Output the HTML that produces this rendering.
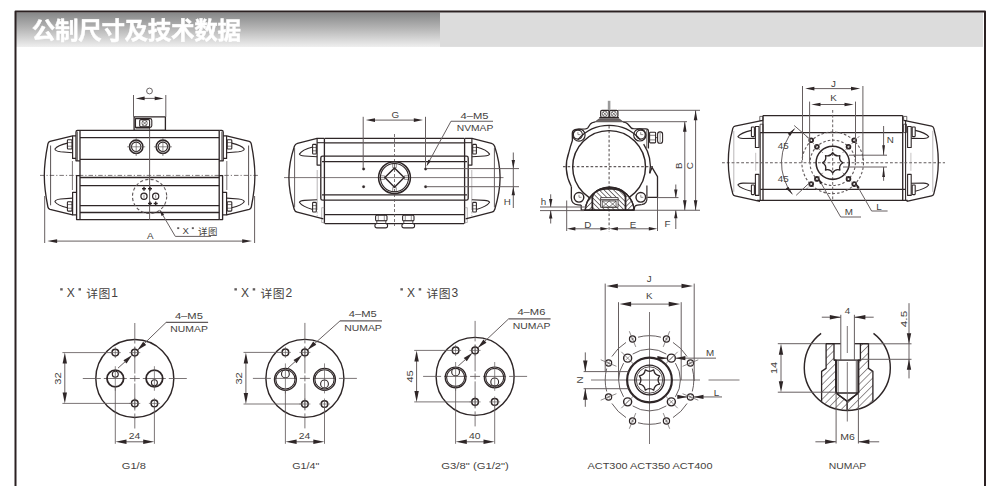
<!DOCTYPE html>
<html><head><meta charset="utf-8"><title>Metric dimensions</title>
<style>
html,body{margin:0;padding:0;background:#fff;}
body{width:1000px;height:486px;overflow:hidden;font-family:"Liberation Sans",sans-serif;}
svg{display:block;font-family:"Liberation Sans",sans-serif;}
</style></head><body>
<svg width="1000" height="486" viewBox="0 0 1000 486" stroke-linecap="butt" stroke-linejoin="round">
<defs><linearGradient id="hg" x1="0" y1="0" x2="0" y2="1"><stop offset="0" stop-color="#868788"/><stop offset="0.45" stop-color="#b4b4b4"/><stop offset="1" stop-color="#efefef"/></linearGradient><filter id="bl" x="-5%" y="-20%" width="110%" height="140%"><feGaussianBlur stdDeviation="0.35"/></filter></defs>
<rect x="16" y="12.5" width="424" height="34.5" fill="url(#hg)"/>
<rect x="440" y="12.5" width="543" height="34.4" fill="#dcdcdc"/>
<path d="M15.5,486 V11.5 H985 V486" fill="none" stroke="#2b2122" stroke-width="2"/>
<g filter="url(#bl)">
<text x="31.8" y="38.6" font-size="23.6" font-weight="bold" fill="#ffffff" stroke="#fff" stroke-width="0.42" textLength="209.2" lengthAdjust="spacing" style="font-family:'Liberation Sans','Noto Sans CJK SC',sans-serif">公制尺寸及技术数据</text>
</g>
<line x1="80" y1="130.4" x2="219.2" y2="130.4" stroke="#2e2627" stroke-width="1.32"/>
<line x1="80" y1="137.7" x2="219.2" y2="137.7" stroke="#2e2627" stroke-width="1.32"/>
<line x1="80" y1="159.4" x2="219.2" y2="159.4" stroke="#2e2627" stroke-width="1.32"/>
<line x1="80" y1="177.5" x2="219.2" y2="177.5" stroke="#2e2627" stroke-width="1.32"/>
<line x1="80" y1="185.6" x2="219.2" y2="185.6" stroke="#2e2627" stroke-width="1.32"/>
<line x1="80" y1="205.7" x2="219.2" y2="205.7" stroke="#2e2627" stroke-width="1.32"/>
<line x1="80" y1="212.5" x2="219.2" y2="212.5" stroke="#2e2627" stroke-width="1.32"/>
<line x1="80" y1="219.6" x2="219.2" y2="219.6" stroke="#2e2627" stroke-width="1.32"/>
<line x1="40" y1="175.4" x2="259" y2="175.4" stroke="#625b5c" stroke-width="0.84" stroke-dasharray="4.5 2 1.2 2"/>
<line x1="149.6" y1="124" x2="149.6" y2="220" stroke="#625b5c" stroke-width="0.98"/>
<line x1="80" y1="130.4" x2="80" y2="219.6" stroke="#2e2627" stroke-width="1.32"/>
<path d="M80,130.4 H77.5 Q76,130.4 76,132 V160.8 H80" stroke="#2e2627" stroke-width="1.32" fill="none"/>
<line x1="77.4" y1="131.5" x2="77.4" y2="160.8" stroke="#2e2627" stroke-width="0.7"/>
<path d="M80,175.6 H76.6 V219.6 H80" stroke="#2e2627" stroke-width="1.32" fill="none"/>
<path d="M76,135.9 H72.6 V158.4 H76" stroke="#2e2627" stroke-width="1.2" fill="none"/>
<path d="M76.6,192.3 H72.6 V214.9 H76.6" stroke="#2e2627" stroke-width="1.2" fill="none"/>
<line x1="72.4" y1="161" x2="72.4" y2="190" stroke="#625b5c" stroke-width="0.84"/>
<path d="M72.6,135.9 L50,141.4 Q48.3,141.9 47.9,143.8 C45.5,156 44.3,166 44.3,175.4 C44.3,185 45.5,195 47.9,207 Q48.3,208.9 50,209.4 L72.6,214.9" stroke="#2e2627" stroke-width="1.32" fill="none"/>
<line x1="50.6" y1="145.5" x2="50.6" y2="205.3" stroke="#2e2627" stroke-width="0.8"/>
<rect x="67.4" y="139.7" width="4.6" height="9.3" stroke="#2e2627" stroke-width="1.08" fill="none" rx="0.8"/>
<line x1="67.4" y1="142.6" x2="72" y2="142.6" stroke="#2e2627" stroke-width="0.6"/>
<line x1="67.4" y1="146.2" x2="72" y2="146.2" stroke="#2e2627" stroke-width="0.6"/>
<path d="M67.4,143.1 Q57.5,145.3 54.9,149 Q55.3,151.2 60.5,151.8 L72.6,152.7" stroke="#2e2627" stroke-width="1.08" fill="none"/>
<rect x="67.4" y="201.8" width="4.6" height="9.3" stroke="#2e2627" stroke-width="1.08" fill="none" rx="0.8"/>
<line x1="67.4" y1="208.2" x2="72" y2="208.2" stroke="#2e2627" stroke-width="0.6"/>
<line x1="67.4" y1="204.6" x2="72" y2="204.6" stroke="#2e2627" stroke-width="0.6"/>
<path d="M67.4,207.7 Q57.5,205.5 54.9,201.8 Q55.3,199.6 60.5,199 L72.6,198.1" stroke="#2e2627" stroke-width="1.08" fill="none"/>
<g transform="translate(299.2,0) scale(-1,1)">
<line x1="80" y1="130.4" x2="80" y2="219.6" stroke="#2e2627" stroke-width="1.32"/>
<path d="M80,130.4 H77.5 Q76,130.4 76,132 V160.8 H80" stroke="#2e2627" stroke-width="1.32" fill="none"/>
<line x1="77.4" y1="131.5" x2="77.4" y2="160.8" stroke="#2e2627" stroke-width="0.7"/>
<path d="M80,175.6 H76.6 V219.6 H80" stroke="#2e2627" stroke-width="1.32" fill="none"/>
<path d="M76,135.9 H72.6 V158.4 H76" stroke="#2e2627" stroke-width="1.2" fill="none"/>
<path d="M76.6,192.3 H72.6 V214.9 H76.6" stroke="#2e2627" stroke-width="1.2" fill="none"/>
<line x1="72.4" y1="161" x2="72.4" y2="190" stroke="#625b5c" stroke-width="0.84"/>
<path d="M72.6,135.9 L50,141.4 Q48.3,141.9 47.9,143.8 C45.5,156 44.3,166 44.3,175.4 C44.3,185 45.5,195 47.9,207 Q48.3,208.9 50,209.4 L72.6,214.9" stroke="#2e2627" stroke-width="1.32" fill="none"/>
<line x1="50.6" y1="145.5" x2="50.6" y2="205.3" stroke="#2e2627" stroke-width="0.8"/>
<rect x="67.4" y="139.7" width="4.6" height="9.3" stroke="#2e2627" stroke-width="1.08" fill="none" rx="0.8"/>
<line x1="67.4" y1="142.6" x2="72" y2="142.6" stroke="#2e2627" stroke-width="0.6"/>
<line x1="67.4" y1="146.2" x2="72" y2="146.2" stroke="#2e2627" stroke-width="0.6"/>
<path d="M67.4,143.1 Q57.5,145.3 54.9,149 Q55.3,151.2 60.5,151.8 L72.6,152.7" stroke="#2e2627" stroke-width="1.08" fill="none"/>
<rect x="67.4" y="201.8" width="4.6" height="9.3" stroke="#2e2627" stroke-width="1.08" fill="none" rx="0.8"/>
<line x1="67.4" y1="208.2" x2="72" y2="208.2" stroke="#2e2627" stroke-width="0.6"/>
<line x1="67.4" y1="204.6" x2="72" y2="204.6" stroke="#2e2627" stroke-width="0.6"/>
<path d="M67.4,207.7 Q57.5,205.5 54.9,201.8 Q55.3,199.6 60.5,199 L72.6,198.1" stroke="#2e2627" stroke-width="1.08" fill="none"/>
</g>
<rect x="134.1" y="116.9" width="31.3" height="13.5" stroke="#2e2627" stroke-width="1.32" fill="none"/>
<path d="M135.5,118.6 H150 Q151.8,118.6 151.8,120.4 V125.6 Q151.8,127.4 150,127.4 H135.5 Z" stroke="#2e2627" stroke-width="1.08" fill="none"/>
<rect x="139.7" y="119.6" width="9.9" height="7.1" stroke="#2e2627" stroke-width="1.08" fill="none" rx="1.2"/>
<circle cx="144.6" cy="123.1" r="2.7" stroke="#2e2627" stroke-width="0.6" fill="none"/>
<line x1="142.2" y1="120.8" x2="147" y2="125.4" stroke="#2e2627" stroke-width="0.6"/>
<line x1="147" y1="120.8" x2="142.2" y2="125.4" stroke="#2e2627" stroke-width="0.6"/>
<line x1="135.5" y1="128.6" x2="150" y2="128.6" stroke="#2e2627" stroke-width="0.6"/>
<line x1="133.5" y1="95" x2="133.5" y2="116.9" stroke="#625b5c" stroke-width="0.98"/>
<line x1="165.8" y1="95" x2="165.8" y2="116.9" stroke="#625b5c" stroke-width="0.98"/>
<line x1="141.9" y1="98.4" x2="157.4" y2="98.4" stroke="#625b5c" stroke-width="0.98"/>
<path d="M135.6,98.4 L144.6,96.6 L144.6,100.2 Z" fill="#2e2627"/>
<path d="M163.7,98.4 L154.7,100.2 L154.7,96.6 Z" fill="#2e2627"/>
<circle cx="149.5" cy="91" r="2.9" stroke="#453f40" stroke-width="0.8" fill="none"/>
<circle cx="136.2" cy="146.8" r="6.7" stroke="#2e2627" stroke-width="1.56" fill="none"/>
<circle cx="136.2" cy="146.8" r="4.7" stroke="#2e2627" stroke-width="1.08" fill="none"/>
<line x1="127.2" y1="146.8" x2="145.2" y2="146.8" stroke="#625b5c" stroke-width="0.7"/>
<line x1="136.2" y1="138" x2="136.2" y2="156" stroke="#625b5c" stroke-width="0.7"/>
<circle cx="162.9" cy="146.8" r="6.7" stroke="#2e2627" stroke-width="1.56" fill="none"/>
<circle cx="162.9" cy="146.8" r="4.7" stroke="#2e2627" stroke-width="1.08" fill="none"/>
<line x1="153.9" y1="146.8" x2="171.9" y2="146.8" stroke="#625b5c" stroke-width="0.7"/>
<line x1="162.9" y1="138" x2="162.9" y2="156" stroke="#625b5c" stroke-width="0.7"/>
<circle cx="149.6" cy="196.4" r="17.1" stroke="#625b5c" stroke-width="1.12" fill="none" stroke-dasharray="3.2 2.2"/>
<circle cx="144" cy="196.2" r="3.1" stroke="#2e2627" stroke-width="1.2" fill="none"/>
<circle cx="155.7" cy="196.2" r="3.1" stroke="#2e2627" stroke-width="1.2" fill="none"/>
<line x1="142" y1="188.7" x2="146" y2="188.7" stroke="#2e2627" stroke-width="1.44"/>
<line x1="144" y1="186.7" x2="144" y2="190.7" stroke="#2e2627" stroke-width="1.44"/>
<line x1="148" y1="188.7" x2="152" y2="188.7" stroke="#2e2627" stroke-width="1.44"/>
<line x1="150" y1="186.7" x2="150" y2="190.7" stroke="#2e2627" stroke-width="1.44"/>
<line x1="148" y1="203.5" x2="152" y2="203.5" stroke="#2e2627" stroke-width="1.44"/>
<line x1="150" y1="201.5" x2="150" y2="205.5" stroke="#2e2627" stroke-width="1.44"/>
<line x1="153.7" y1="203.5" x2="157.7" y2="203.5" stroke="#2e2627" stroke-width="1.44"/>
<line x1="155.7" y1="201.5" x2="155.7" y2="205.5" stroke="#2e2627" stroke-width="1.44"/>
<line x1="144" y1="194.6" x2="144" y2="197.8" stroke="#625b5c" stroke-width="0.7"/>
<line x1="155.7" y1="194.6" x2="155.7" y2="197.8" stroke="#625b5c" stroke-width="0.7"/>
<path d="M161,212 L175.3,236.4 H211" stroke="#625b5c" stroke-width="0.98" fill="none"/>
<path d="M159.6,209.6 L164.16,214.47 L161.57,215.97 Z" fill="#2e2627"/>
<line x1="44.7" y1="196" x2="44.7" y2="243" stroke="#625b5c" stroke-width="0.98"/>
<line x1="254.6" y1="196" x2="254.6" y2="243" stroke="#625b5c" stroke-width="0.98"/>
<line x1="54.16" y1="241.1" x2="245.14" y2="241.1" stroke="#625b5c" stroke-width="0.98"/>
<path d="M47.3,241.1 L57.1,239.25 L57.1,242.95 Z" fill="#2e2627"/>
<path d="M252,241.1 L242.2,242.95 L242.2,239.25 Z" fill="#2e2627"/>
<text x="150.3" y="239.3" font-size="9.8" text-anchor="middle" fill="#453f40">A</text>
<rect x="177.2" y="227.24" width="2" height="1.84" fill="#453f40" opacity="0.85"/>
<text x="185.6" y="234.2" font-size="9.6" text-anchor="middle" fill="#453f40">X</text>
<rect x="191.84" y="227.24" width="2" height="1.84" fill="#453f40" opacity="0.85"/>
<text x="198" y="234.68" font-size="9.44" fill="#453f40" textLength="19.36" lengthAdjust="spacing" style="font-family:'Liberation Sans','Noto Sans CJK SC',sans-serif">详图</text>
<line x1="325" y1="138.3" x2="464" y2="138.3" stroke="#2e2627" stroke-width="1.32"/>
<line x1="325" y1="142.9" x2="464" y2="142.9" stroke="#2e2627" stroke-width="1.32"/>
<line x1="325" y1="214.6" x2="464" y2="214.6" stroke="#2e2627" stroke-width="1.32"/>
<line x1="325" y1="223.6" x2="464" y2="223.6" stroke="#2e2627" stroke-width="1.32"/>
<path d="M468.2,158 Q468.2,156.2 466.4,156.2 H322.6 Q320.8,156.2 320.8,158 V198.4 Q320.8,200.2 322.6,200.2 H466.4 Q468.2,200.2 468.2,198.4 Z" stroke="#2e2627" stroke-width="1.32" fill="none"/>
<line x1="322" y1="161.7" x2="467" y2="161.7" stroke="#2e2627" stroke-width="1.32"/>
<line x1="322" y1="194.8" x2="467" y2="194.8" stroke="#2e2627" stroke-width="1.32"/>
<line x1="284" y1="177.6" x2="503.5" y2="177.6" stroke="#625b5c" stroke-width="0.84"/>
<line x1="394.5" y1="134" x2="394.5" y2="226" stroke="#625b5c" stroke-width="0.84" stroke-dasharray="3 2"/>
<line x1="324.4" y1="138.3" x2="324.4" y2="223.6" stroke="#2e2627" stroke-width="1.32"/>
<path d="M324.4,138.3 H317.1 V165.1 H320.9" stroke="#2e2627" stroke-width="1.2" fill="none"/>
<line x1="317.1" y1="142.7" x2="324.4" y2="142.7" stroke="#2e2627" stroke-width="1.08"/>
<line x1="317.2" y1="170" x2="317.2" y2="208" stroke="#8a8586" stroke-width="0.6"/>
<line x1="317.2" y1="208" x2="317.2" y2="216" stroke="#8a8586" stroke-width="0.6" stroke-dasharray="2 1.5"/>
<path d="M324.4,207.7 H321.7 V222.5 H324.4" stroke="#8a8586" stroke-width="0.6" fill="none"/>
<path d="M317.1,138.4 L297.5,143.4 Q295.2,144 294.4,146.3 C290.5,158 288.9,168 288.9,177.6 C288.9,187 290.5,197 294.2,209.2 Q294.9,211.6 297.2,212.2 L323.4,218.8" stroke="#2e2627" stroke-width="1.32" fill="none"/>
<line x1="294.6" y1="148" x2="294.6" y2="207.2" stroke="#625b5c" stroke-width="0.98"/>
<rect x="312.6" y="144.4" width="3.7" height="9.6" stroke="#2e2627" stroke-width="1.08" fill="none" rx="0.8"/>
<line x1="312.6" y1="147.5" x2="316.3" y2="147.5" stroke="#2e2627" stroke-width="0.6"/>
<line x1="312.6" y1="150.8" x2="316.3" y2="150.8" stroke="#2e2627" stroke-width="0.6"/>
<path d="M312.6,147 Q302,149.8 299.4,154.1 Q299.9,155.7 304.5,156 L317.1,156.7" stroke="#2e2627" stroke-width="1.08" fill="none"/>
<rect x="312.6" y="202.4" width="3.7" height="9.6" stroke="#2e2627" stroke-width="1.08" fill="none" rx="0.8"/>
<line x1="312.6" y1="208.9" x2="316.3" y2="208.9" stroke="#2e2627" stroke-width="0.6"/>
<line x1="312.6" y1="205.6" x2="316.3" y2="205.6" stroke="#2e2627" stroke-width="0.6"/>
<path d="M312.6,209.4 Q302,206.6 299.4,202.3 Q299.9,200.7 304.5,200.4 L317.1,199.7" stroke="#2e2627" stroke-width="1.08" fill="none"/>
<g transform="translate(789,0) scale(-1,1)">
<line x1="324.4" y1="138.3" x2="324.4" y2="223.6" stroke="#2e2627" stroke-width="1.32"/>
<path d="M324.4,138.3 H317.1 V165.1 H320.9" stroke="#2e2627" stroke-width="1.2" fill="none"/>
<line x1="317.1" y1="142.7" x2="324.4" y2="142.7" stroke="#2e2627" stroke-width="1.08"/>
<line x1="317.2" y1="170" x2="317.2" y2="208" stroke="#8a8586" stroke-width="0.6"/>
<line x1="317.2" y1="208" x2="317.2" y2="216" stroke="#8a8586" stroke-width="0.6" stroke-dasharray="2 1.5"/>
<path d="M324.4,207.7 H321.7 V222.5 H324.4" stroke="#8a8586" stroke-width="0.6" fill="none"/>
<path d="M317.1,138.4 L297.5,143.4 Q295.2,144 294.4,146.3 C290.5,158 288.9,168 288.9,177.6 C288.9,187 290.5,197 294.2,209.2 Q294.9,211.6 297.2,212.2 L323.4,218.8" stroke="#2e2627" stroke-width="1.32" fill="none"/>
<line x1="294.6" y1="148" x2="294.6" y2="207.2" stroke="#625b5c" stroke-width="0.98"/>
<rect x="312.6" y="144.4" width="3.7" height="9.6" stroke="#2e2627" stroke-width="1.08" fill="none" rx="0.8"/>
<line x1="312.6" y1="147.5" x2="316.3" y2="147.5" stroke="#2e2627" stroke-width="0.6"/>
<line x1="312.6" y1="150.8" x2="316.3" y2="150.8" stroke="#2e2627" stroke-width="0.6"/>
<path d="M312.6,147 Q302,149.8 299.4,154.1 Q299.9,155.7 304.5,156 L317.1,156.7" stroke="#2e2627" stroke-width="1.08" fill="none"/>
<rect x="312.6" y="202.4" width="3.7" height="9.6" stroke="#2e2627" stroke-width="1.08" fill="none" rx="0.8"/>
<line x1="312.6" y1="208.9" x2="316.3" y2="208.9" stroke="#2e2627" stroke-width="0.6"/>
<line x1="312.6" y1="205.6" x2="316.3" y2="205.6" stroke="#2e2627" stroke-width="0.6"/>
<path d="M312.6,209.4 Q302,206.6 299.4,202.3 Q299.9,200.7 304.5,200.4 L317.1,199.7" stroke="#2e2627" stroke-width="1.08" fill="none"/>
</g>
<circle cx="394.5" cy="177.6" r="15.9" stroke="#2e2627" stroke-width="1.56" fill="none"/>
<circle cx="394.5" cy="177.6" r="14.1" stroke="#2e2627" stroke-width="1.08" fill="none"/>
<path d="M394.5,168 L404.1,177.6 L394.5,187.2 L384.9,177.6 Z" stroke="#2e2627" stroke-width="1.44" fill="none"/>
<rect x="392.7" y="163.6" width="3.6" height="4" stroke="#2e2627" stroke-width="0.5" fill="none"/>
<rect x="392.7" y="187.6" width="3.6" height="4" stroke="#2e2627" stroke-width="0.5" fill="none"/>
<rect x="380.5" y="175.8" width="4" height="3.6" stroke="#2e2627" stroke-width="0.5" fill="none"/>
<rect x="404.5" y="175.8" width="4" height="3.6" stroke="#2e2627" stroke-width="0.5" fill="none"/>
<circle cx="363.6" cy="168.9" r="1.25" stroke="#2e2627" stroke-width="0.3" fill="#2e2627"/>
<circle cx="363.6" cy="186.7" r="1.25" stroke="#2e2627" stroke-width="0.3" fill="#2e2627"/>
<circle cx="425.6" cy="168.9" r="1.25" stroke="#2e2627" stroke-width="0.3" fill="#2e2627"/>
<circle cx="425.6" cy="186.7" r="1.25" stroke="#2e2627" stroke-width="0.3" fill="#2e2627"/>
<line x1="363.2" y1="116.8" x2="363.2" y2="168" stroke="#625b5c" stroke-width="0.98"/>
<line x1="425.5" y1="116.8" x2="425.5" y2="168" stroke="#625b5c" stroke-width="0.98"/>
<line x1="372.24" y1="120.1" x2="416.56" y2="120.1" stroke="#625b5c" stroke-width="0.98"/>
<path d="M365.8,120.1 L375,118.3 L375,121.9 Z" fill="#2e2627"/>
<path d="M423,120.1 L413.8,121.9 L413.8,118.3 Z" fill="#2e2627"/>
<text x="395.3" y="117.8" font-size="9.8" text-anchor="middle" fill="#453f40">G</text>
<rect x="375.6" y="215.3" width="11.4" height="5.6" stroke="#2e2627" stroke-width="1.08" fill="#fff" rx="1.2"/>
<line x1="378.3" y1="215.6" x2="378.3" y2="220.6" stroke="#2e2627" stroke-width="0.5"/>
<line x1="384.3" y1="215.6" x2="384.3" y2="220.6" stroke="#2e2627" stroke-width="0.5"/>
<rect x="376.8" y="220.9" width="9" height="2.6" stroke="#2e2627" stroke-width="0.8" fill="#fff"/>
<rect x="374.9" y="223.5" width="12.7" height="4.4" stroke="#2e2627" stroke-width="1.08" fill="#fff" rx="2.1"/>
<rect x="402.6" y="215.3" width="11.4" height="5.6" stroke="#2e2627" stroke-width="1.08" fill="#fff" rx="1.2"/>
<line x1="405.3" y1="215.6" x2="405.3" y2="220.6" stroke="#2e2627" stroke-width="0.5"/>
<line x1="411.3" y1="215.6" x2="411.3" y2="220.6" stroke="#2e2627" stroke-width="0.5"/>
<rect x="403.8" y="220.9" width="9" height="2.6" stroke="#2e2627" stroke-width="0.8" fill="#fff"/>
<rect x="401.9" y="223.5" width="12.7" height="4.4" stroke="#2e2627" stroke-width="1.08" fill="#fff" rx="2.1"/>
<line x1="451" y1="121.2" x2="493" y2="121.2" stroke="#625b5c" stroke-width="1.12"/>
<line x1="451" y1="121.2" x2="428.5" y2="162.5" stroke="#625b5c" stroke-width="0.98"/>
<path d="M426.4,166.6 L428.28,159.69 L430.95,161.07 Z" fill="#2e2627"/>
<text x="474.5" y="118.8" font-size="9.8" text-anchor="middle" fill="#453f40" textLength="28" lengthAdjust="spacingAndGlyphs">4–M5</text>
<text x="475" y="131.4" font-size="9.8" text-anchor="middle" fill="#453f40" textLength="36.5" lengthAdjust="spacingAndGlyphs">NVMAP</text>
<line x1="427" y1="168.6" x2="519" y2="168.6" stroke="#625b5c" stroke-width="0.98"/>
<line x1="427" y1="186.7" x2="519" y2="186.7" stroke="#625b5c" stroke-width="0.98"/>
<line x1="513.3" y1="152.5" x2="513.3" y2="208" stroke="#625b5c" stroke-width="0.98"/>
<path d="M513.3,168.6 L511.6,160.1 L515,160.1 Z" fill="#2e2627"/>
<path d="M513.3,186.7 L515,195.2 L511.6,195.2 Z" fill="#2e2627"/>
<text x="507.2" y="205.4" font-size="9.8" text-anchor="middle" fill="#453f40">H</text>
<defs><pattern id="h1" width="3.4" height="3.4" patternUnits="userSpaceOnUse" patternTransform="rotate(45)"><line x1="0" y1="0" x2="0" y2="3.4" stroke="#2e2627" stroke-width="1.25"/></pattern><pattern id="h2" width="3.4" height="3.4" patternUnits="userSpaceOnUse" patternTransform="rotate(-45)"><line x1="0" y1="0" x2="0" y2="3.4" stroke="#2e2627" stroke-width="1.25"/></pattern></defs>
<line x1="563" y1="166.6" x2="654" y2="166.6" stroke="#625b5c" stroke-width="1.12" stroke-dasharray="2.6 2"/>
<line x1="609.1" y1="126" x2="609.1" y2="232" stroke="#625b5c" stroke-width="1.12" stroke-dasharray="2.6 2"/>
<line x1="609.1" y1="100.8" x2="609.1" y2="110.2" stroke="#9a9a9a" stroke-width="2.6"/>
<circle cx="609.1" cy="167" r="36.4" stroke="#2e2627" stroke-width="1.44" fill="none"/>
<path d="M578.01,139.57 A41.2,41.2 0 0 1 640.19,139.57" stroke="#2e2627" stroke-width="1.32" fill="none"/>
<path d="M568.98,152 A42.7,42.7 0 0 0 571.29,186.45" stroke="#2e2627" stroke-width="1.32" fill="none"/>
<path d="M643.65,144.16 A41.2,41.2 0 0 1 649.73,173.4" stroke="#2e2627" stroke-width="1.32" fill="none"/>
<rect x="600.7" y="110.3" width="8.3" height="7" stroke="#2e2627" stroke-width="1.2" fill="none" rx="1.2"/>
<circle cx="604.85" cy="113.8" r="2.6" stroke="#2e2627" stroke-width="0.6" fill="none"/>
<line x1="602.9" y1="111.9" x2="606.8" y2="115.7" stroke="#2e2627" stroke-width="0.6"/>
<line x1="606.8" y1="111.9" x2="602.9" y2="115.7" stroke="#2e2627" stroke-width="0.6"/>
<rect x="609.6" y="110.3" width="8.3" height="7" stroke="#2e2627" stroke-width="1.2" fill="none" rx="1.2"/>
<circle cx="613.75" cy="113.8" r="2.6" stroke="#2e2627" stroke-width="0.6" fill="none"/>
<line x1="611.8" y1="111.9" x2="615.7" y2="115.7" stroke="#2e2627" stroke-width="0.6"/>
<line x1="615.7" y1="111.9" x2="611.8" y2="115.7" stroke="#2e2627" stroke-width="0.6"/>
<path d="M599.3,117.6 H618.9" stroke="#2e2627" stroke-width="1.2" fill="none"/>
<path d="M599.3,118.7 L595.2,121.8 H623 L618.9,118.7 Z" stroke="#2e2627" stroke-width="0.6" fill="#6e6667"/>
<path d="M595.2,121.8 Q591.5,122.6 590.4,124 L587.8,127.8 Q587.2,128.6 585.5,128.8 L576,129.3 Q572.4,129.6 572.3,133.5 L572.4,140.5 Q570.3,146.5 568.97,152" stroke="#2e2627" stroke-width="1.32" fill="none"/>
<path d="M623,121.8 Q626.7,122.6 627.8,124 L631.3,128 Q631.8,128.6 633.5,128.7 L645.9,128.9 Q648.4,128.9 648.4,131.4 V148.5" stroke="#2e2627" stroke-width="1.32" fill="none"/>
<path d="M649.7,173.3 L652,167.4 L657.5,176.6 V197.4 H647.4" stroke="#2e2627" stroke-width="1.32" fill="none"/>
<line x1="646.6" y1="130" x2="646.6" y2="148" stroke="#2e2627" stroke-width="0.6"/>
<circle cx="579" cy="135.1" r="6.1" stroke="#2e2627" stroke-width="1.2" fill="none"/>
<circle cx="577.9" cy="134.6" r="4.5" stroke="#2e2627" stroke-width="1.08" fill="none"/>
<line x1="577.9" y1="134.6" x2="580.4" y2="134.6" stroke="#2e2627" stroke-width="0.5"/>
<line x1="577.9" y1="132.1" x2="577.9" y2="134.6" stroke="#2e2627" stroke-width="0.5"/>
<circle cx="639.8" cy="134.9" r="6.1" stroke="#2e2627" stroke-width="1.2" fill="none"/>
<circle cx="640.7" cy="134.6" r="4.5" stroke="#2e2627" stroke-width="1.08" fill="none"/>
<line x1="640.7" y1="134.6" x2="643.2" y2="134.6" stroke="#2e2627" stroke-width="0.5"/>
<line x1="640.7" y1="132.1" x2="640.7" y2="134.6" stroke="#2e2627" stroke-width="0.5"/>
<circle cx="579" cy="197.3" r="4.8" stroke="#2e2627" stroke-width="1.44" fill="none"/>
<line x1="579" y1="197.3" x2="581.5" y2="197.3" stroke="#2e2627" stroke-width="0.5"/>
<line x1="579" y1="194.8" x2="579" y2="197.3" stroke="#2e2627" stroke-width="0.5"/>
<circle cx="640.8" cy="197.3" r="4.8" stroke="#2e2627" stroke-width="1.44" fill="none"/>
<line x1="640.8" y1="197.3" x2="643.3" y2="197.3" stroke="#2e2627" stroke-width="0.5"/>
<line x1="640.8" y1="194.8" x2="640.8" y2="197.3" stroke="#2e2627" stroke-width="0.5"/>
<rect x="649.6" y="132.3" width="6" height="10.6" stroke="#2e2627" stroke-width="1.08" fill="none" rx="0.8"/>
<line x1="649.6" y1="135.3" x2="655.6" y2="135.3" stroke="#2e2627" stroke-width="0.6"/>
<line x1="649.6" y1="139.9" x2="655.6" y2="139.9" stroke="#2e2627" stroke-width="0.6"/>
<rect x="657.6" y="131.9" width="5" height="11.3" stroke="#2e2627" stroke-width="1.08" fill="none" rx="2.3"/>
<line x1="660.1" y1="133" x2="660.1" y2="142" stroke="#2e2627" stroke-width="0.5"/>
<line x1="655.6" y1="137.6" x2="657.6" y2="137.6" stroke="#2e2627" stroke-width="0.8"/>
<path d="M571.4,186.4 L571.3,198 Q571.6,204.4 578,204.9 L581.2,205.1" stroke="#2e2627" stroke-width="1.32" fill="none"/>
<path d="M581.2,205 V210.2 H585.2" stroke="#2e2627" stroke-width="1.2" fill="none"/>
<line x1="646.9" y1="185.5" x2="646.9" y2="196.5" stroke="#2e2627" stroke-width="1.2"/>
<path d="M641.5,204.6 Q636.5,204.6 634.8,206.4 L634.1,210.2" stroke="#2e2627" stroke-width="1.2" fill="none"/>
<path d="M646.9,196.5 Q647.6,204.3 641.5,204.6" stroke="#2e2627" stroke-width="1.2" fill="none"/>
<path d="M585.2,210.2 A24.5,24.5 0 0 1 634.1,210.2 Z" stroke="#2e2627" stroke-width="1.32" fill="#fff"/>
<path d="M585.2,210.2 A24.5,24.5 0 0 1 634.1,210.2 Z" stroke="#2e2627" stroke-width="1.32" fill="url(#h1)"/>
<path d="M592.4,210.2 V197 Q594,189.2 609.1,188.6 Q624.6,189.2 625.5,197 V210.2 Z" stroke="#2e2627" stroke-width="1.44" fill="#fff"/>
<path d="M592.4,210.2 V197 Q594,189.2 609.1,188.6 Q624.6,189.2 625.5,197 V210.2 Z" stroke="#2e2627" stroke-width="1.44" fill="url(#h2)"/>
<rect x="600.6" y="197.6" width="17.5" height="2.3" stroke="#2e2627" stroke-width="0.8" fill="#fff"/>
<rect x="600.6" y="199.9" width="17.5" height="7.4" stroke="#2e2627" stroke-width="0.8" fill="#fff"/>
<rect x="602.3" y="201" width="13.8" height="6" stroke="#2e2627" stroke-width="0.7" fill="#fff"/>
<path d="M602.3,201 L609.2,207 L616.1,201 M602.3,207 L609.2,201 L616.1,207" stroke="#2e2627" stroke-width="0.6" fill="none"/>
<line x1="581" y1="210.3" x2="634.5" y2="210.3" stroke="#2e2627" stroke-width="1.2"/>
<line x1="634.5" y1="210.3" x2="700" y2="210.3" stroke="#625b5c" stroke-width="1.12"/>
<line x1="618" y1="110.3" x2="700" y2="110.3" stroke="#625b5c" stroke-width="0.98"/>
<line x1="623" y1="121.7" x2="687" y2="121.7" stroke="#625b5c" stroke-width="0.98"/>
<line x1="684.8" y1="121.7" x2="684.8" y2="210.2" stroke="#625b5c" stroke-width="0.98"/>
<path d="M684.8,121.7 L686.6,131.7 L683,131.7 Z" fill="#2e2627"/>
<path d="M684.8,210.2 L683,200.2 L686.6,200.2 Z" fill="#2e2627"/>
<line x1="695.6" y1="110.3" x2="695.6" y2="210.2" stroke="#625b5c" stroke-width="0.98"/>
<path d="M695.6,110.3 L697.4,120.3 L693.8,120.3 Z" fill="#2e2627"/>
<path d="M695.6,210.2 L693.8,200.2 L697.4,200.2 Z" fill="#2e2627"/>
<text x="681.8" y="165.6" font-size="9.8" text-anchor="middle" fill="#453f40" transform="rotate(-90 681.8 165.6)">B</text>
<text x="692.8" y="165.6" font-size="9.8" text-anchor="middle" fill="#453f40" transform="rotate(-90 692.8 165.6)">C</text>
<line x1="540" y1="207" x2="586" y2="207" stroke="#625b5c" stroke-width="0.98"/>
<line x1="540" y1="210.6" x2="584" y2="210.6" stroke="#625b5c" stroke-width="0.98"/>
<line x1="550.7" y1="194.3" x2="550.7" y2="207" stroke="#625b5c" stroke-width="0.98"/>
<path d="M550.7,207 L549,199 L552.4,199 Z" fill="#2e2627"/>
<line x1="550.7" y1="210.6" x2="550.7" y2="223.5" stroke="#625b5c" stroke-width="0.98"/>
<path d="M550.7,210.6 L552.4,218.6 L549,218.6 Z" fill="#2e2627"/>
<text x="543.6" y="205.2" font-size="9.8" text-anchor="middle" fill="#453f40">h</text>
<line x1="566.7" y1="200.5" x2="566.7" y2="231" stroke="#625b5c" stroke-width="0.98"/>
<line x1="657.5" y1="197.4" x2="657.5" y2="231" stroke="#625b5c" stroke-width="0.98"/>
<line x1="572" y1="228.8" x2="603" y2="228.8" stroke="#625b5c" stroke-width="0.98"/>
<path d="M566.9,228.8 L575.4,227.1 L575.4,230.5 Z" fill="#2e2627"/>
<path d="M608.9,228.8 L600.4,230.5 L600.4,227.1 Z" fill="#2e2627"/>
<line x1="615" y1="228.8" x2="652" y2="228.8" stroke="#625b5c" stroke-width="0.98"/>
<path d="M609.4,228.8 L617.9,227.1 L617.9,230.5 Z" fill="#2e2627"/>
<path d="M657.3,228.8 L648.8,230.5 L648.8,227.1 Z" fill="#2e2627"/>
<text x="587.8" y="227.6" font-size="9.8" text-anchor="middle" fill="#453f40">D</text>
<text x="633" y="227.6" font-size="9.8" text-anchor="middle" fill="#453f40">E</text>
<line x1="657.5" y1="197.6" x2="678.5" y2="197.6" stroke="#625b5c" stroke-width="0.98"/>
<line x1="675.8" y1="184.5" x2="675.8" y2="197.6" stroke="#625b5c" stroke-width="0.98"/>
<path d="M675.8,197.6 L674.1,189.6 L677.5,189.6 Z" fill="#2e2627"/>
<line x1="675.8" y1="210.3" x2="675.8" y2="229" stroke="#625b5c" stroke-width="0.98"/>
<path d="M675.8,210.3 L677.5,218.3 L674.1,218.3 Z" fill="#2e2627"/>
<text x="667.6" y="226.8" font-size="9.8" text-anchor="middle" fill="#453f40">F</text>
<line x1="763" y1="115.6" x2="902.7" y2="115.6" stroke="#2e2627" stroke-width="1.32"/>
<line x1="760.3" y1="132.6" x2="902.7" y2="132.6" stroke="#2e2627" stroke-width="1.32"/>
<line x1="760.3" y1="189.3" x2="905.7" y2="189.3" stroke="#2e2627" stroke-width="1.32"/>
<line x1="757" y1="200.3" x2="907.7" y2="200.3" stroke="#2e2627" stroke-width="1.32"/>
<line x1="763" y1="115.6" x2="763" y2="200.3" stroke="#2e2627" stroke-width="1.32"/>
<line x1="760.2" y1="132.6" x2="760.2" y2="200.3" stroke="#2e2627" stroke-width="1.08"/>
<line x1="902.7" y1="115.6" x2="902.7" y2="200.3" stroke="#2e2627" stroke-width="1.32"/>
<line x1="905.6" y1="120" x2="905.6" y2="200.3" stroke="#2e2627" stroke-width="1.08"/>
<line x1="722" y1="162.8" x2="945" y2="162.8" stroke="#625b5c" stroke-width="1.12" stroke-dasharray="2.8 2"/>
<line x1="832.7" y1="110" x2="832.7" y2="200" stroke="#625b5c" stroke-width="0.98" stroke-dasharray="2.8 2"/>
<path d="M762.8,120.4 L735,126.2 Q733.3,126.6 732.8,128.4 C729.5,140.8 728.3,151.8 728.3,161.8 C728.3,170.8 729.5,181.8 732.8,193.8 Q733.3,195.5 735,195.9 L760,201.4" stroke="#2e2627" stroke-width="1.32" fill="none"/>
<line x1="733.8" y1="130.8" x2="733.8" y2="191.8" stroke="#8a8586" stroke-width="0.6"/>
<rect x="759.8" y="116.4" width="3.2" height="4.2" stroke="#2e2627" stroke-width="0.7" fill="none"/>
<rect x="755.4" y="126.5" width="3.6" height="21" stroke="#2e2627" stroke-width="1.08" fill="none"/>
<rect x="760.1" y="124.2" width="2.9" height="8.4" stroke="#2e2627" stroke-width="0.8" fill="none"/>
<rect x="755.4" y="174.4" width="3.6" height="21" stroke="#2e2627" stroke-width="1.08" fill="none"/>
<line x1="755.7" y1="152.8" x2="755.7" y2="170.8" stroke="#8a8586" stroke-width="0.5"/>
<rect x="751.4" y="127" width="3" height="9.6" stroke="#2e2627" stroke-width="1.08" fill="none" rx="0.6"/>
<path d="M751.4,130.4 Q741,132.8 737.9,136.6 Q738.4,138.2 743,138.5 L755.4,138.4" stroke="#2e2627" stroke-width="1.08" fill="none"/>
<rect x="751.4" y="185" width="3" height="9.6" stroke="#2e2627" stroke-width="1.08" fill="none" rx="0.6"/>
<path d="M751.4,191.2 Q741,188.8 737.9,185 Q738.4,183.4 743,183.1 L755.4,183.2" stroke="#2e2627" stroke-width="1.08" fill="none"/>
<g transform="translate(1666.6,0) scale(-1,1)">
<path d="M762.8,120.4 L735,126.2 Q733.3,126.6 732.8,128.4 C729.5,140.8 728.3,151.8 728.3,161.8 C728.3,170.8 729.5,181.8 732.8,193.8 Q733.3,195.5 735,195.9 L760,201.4" stroke="#2e2627" stroke-width="1.32" fill="none"/>
<line x1="733.8" y1="130.8" x2="733.8" y2="191.8" stroke="#8a8586" stroke-width="0.6"/>
<rect x="759.8" y="116.4" width="3.2" height="4.2" stroke="#2e2627" stroke-width="0.7" fill="none"/>
<rect x="755.4" y="126.5" width="3.6" height="21" stroke="#2e2627" stroke-width="1.08" fill="none"/>
<rect x="760.1" y="124.2" width="2.9" height="8.4" stroke="#2e2627" stroke-width="0.8" fill="none"/>
<rect x="755.4" y="174.4" width="3.6" height="21" stroke="#2e2627" stroke-width="1.08" fill="none"/>
<line x1="755.7" y1="152.8" x2="755.7" y2="170.8" stroke="#8a8586" stroke-width="0.5"/>
<rect x="751.4" y="127" width="3" height="9.6" stroke="#2e2627" stroke-width="1.08" fill="none" rx="0.6"/>
<path d="M751.4,130.4 Q741,132.8 737.9,136.6 Q738.4,138.2 743,138.5 L755.4,138.4" stroke="#2e2627" stroke-width="1.08" fill="none"/>
<rect x="751.4" y="185" width="3" height="9.6" stroke="#2e2627" stroke-width="1.08" fill="none" rx="0.6"/>
<path d="M751.4,191.2 Q741,188.8 737.9,185 Q738.4,183.4 743,183.1 L755.4,183.2" stroke="#2e2627" stroke-width="1.08" fill="none"/>
</g>
<circle cx="832.7" cy="162.8" r="16.6" stroke="#2e2627" stroke-width="1.56" fill="none"/>
<path d="M842.9,162.8 Q838.58,165.24 839.91,170.01 Q835.14,168.68 832.7,173 Q830.26,168.68 825.49,170.01 Q826.82,165.24 822.5,162.8 Q826.82,160.36 825.49,155.59 Q830.26,156.92 832.7,152.6 Q835.14,156.92 839.91,155.59 Q838.58,160.36 842.9,162.8 Z" stroke="#2e2627" stroke-width="1.32" fill="none"/>
<circle cx="832.7" cy="162.8" r="30.8" stroke="#625b5c" stroke-width="1.12" fill="none" stroke-dasharray="2.6 2"/>
<circle cx="832.7" cy="162.8" r="22.7" stroke="#625b5c" stroke-width="1.12" fill="none" stroke-dasharray="2.6 2"/>
<circle cx="811.2" cy="140.3" r="1.9" stroke="#2e2627" stroke-width="1.8" fill="#fff"/>
<circle cx="816.9" cy="146.7" r="1.9" stroke="#2e2627" stroke-width="1.8" fill="#fff"/>
<circle cx="811.2" cy="184.1" r="1.9" stroke="#2e2627" stroke-width="1.8" fill="#fff"/>
<circle cx="816.9" cy="178.9" r="1.9" stroke="#2e2627" stroke-width="1.8" fill="#fff"/>
<circle cx="854.2" cy="140.3" r="1.9" stroke="#2e2627" stroke-width="1.8" fill="#fff"/>
<circle cx="848.5" cy="146.7" r="1.9" stroke="#2e2627" stroke-width="1.8" fill="#fff"/>
<circle cx="854.2" cy="184.1" r="1.9" stroke="#2e2627" stroke-width="1.8" fill="#fff"/>
<circle cx="848.5" cy="178.9" r="1.9" stroke="#2e2627" stroke-width="1.8" fill="#fff"/>
<line x1="822.7" y1="152.8" x2="805.7" y2="135.8" stroke="#625b5c" stroke-width="0.84" stroke-dasharray="2.4 1.8"/>
<line x1="822.7" y1="172.8" x2="805.7" y2="189.8" stroke="#625b5c" stroke-width="0.84" stroke-dasharray="2.4 1.8"/>
<line x1="842.7" y1="152.8" x2="859.7" y2="135.8" stroke="#625b5c" stroke-width="0.84" stroke-dasharray="2.4 1.8"/>
<line x1="842.7" y1="172.8" x2="859.7" y2="189.8" stroke="#625b5c" stroke-width="0.84" stroke-dasharray="2.4 1.8"/>
<line x1="802.5" y1="86" x2="802.5" y2="160" stroke="#625b5c" stroke-width="0.98"/>
<line x1="862.9" y1="86" x2="862.9" y2="160" stroke="#625b5c" stroke-width="0.98"/>
<line x1="809.6" y1="101.6" x2="809.6" y2="162" stroke="#625b5c" stroke-width="0.98"/>
<line x1="855.5" y1="101.6" x2="855.5" y2="162" stroke="#625b5c" stroke-width="0.98"/>
<line x1="811.64" y1="88.6" x2="853.76" y2="88.6" stroke="#625b5c" stroke-width="0.98"/>
<path d="M805.2,88.6 L814.4,86.8 L814.4,90.4 Z" fill="#2e2627"/>
<path d="M860.2,88.6 L851,90.4 L851,86.8 Z" fill="#2e2627"/>
<line x1="817.74" y1="104.5" x2="847.26" y2="104.5" stroke="#625b5c" stroke-width="0.98"/>
<path d="M811.3,104.5 L820.5,102.7 L820.5,106.3 Z" fill="#2e2627"/>
<path d="M853.7,104.5 L844.5,106.3 L844.5,102.7 Z" fill="#2e2627"/>
<text x="833.4" y="86.9" font-size="9.8" text-anchor="middle" fill="#453f40">J</text>
<text x="833.4" y="101" font-size="9.8" text-anchor="middle" fill="#453f40">K</text>
<path d="M792.35,194.32 A51.2,51.2 0 0 1 794.65,128.54" stroke="#625b5c" stroke-width="0.98" fill="none"/>
<path d="M794.65,128.54 L790.15,135.93 L787.77,133.79 Z" fill="#2e2627"/>
<path d="M792.35,194.32 L785.86,188.61 L788.38,186.64 Z" fill="#2e2627"/>
<line x1="794.2" y1="125.5" x2="809.6" y2="138.9" stroke="#625b5c" stroke-width="0.98"/>
<line x1="796.2" y1="195.3" x2="809.6" y2="182.7" stroke="#625b5c" stroke-width="0.98"/>
<text x="783.2" y="149.3" font-size="9.8" text-anchor="middle" fill="#453f40">45</text>
<text x="783.2" y="181.8" font-size="9.8" text-anchor="middle" fill="#453f40">45</text>
<line x1="849" y1="155.2" x2="887" y2="155.2" stroke="#625b5c" stroke-width="0.98"/>
<line x1="843" y1="167" x2="887" y2="167" stroke="#625b5c" stroke-width="0.98"/>
<line x1="883.6" y1="126" x2="883.6" y2="155.2" stroke="#625b5c" stroke-width="0.98"/>
<path d="M883.6,155.2 L882.2,145.2 L885,145.2 Z" fill="#2e2627"/>
<line x1="883.6" y1="167" x2="883.6" y2="180.8" stroke="#625b5c" stroke-width="0.98"/>
<path d="M883.6,167 L885,177 L882.2,177 Z" fill="#2e2627"/>
<text x="890.3" y="142.7" font-size="9.8" text-anchor="middle" fill="#453f40">N</text>
<path d="M818.2,178.2 L840.7,217 H861" stroke="#625b5c" stroke-width="0.98" fill="none"/>
<path d="M818,177.8 L822.45,182.74 L820.03,184.13 Z" fill="#2e2627"/>
<path d="M855.5,182.8 L871.6,211 H887.6" stroke="#625b5c" stroke-width="0.98" fill="none"/>
<path d="M855.3,182.4 L859.75,187.34 L857.33,188.73 Z" fill="#2e2627"/>
<text x="848.8" y="214.6" font-size="9.8" text-anchor="middle" fill="#453f40">M</text>
<text x="879" y="210.4" font-size="9.8" text-anchor="middle" fill="#453f40">L</text>
<circle cx="134.8" cy="378.5" r="39" stroke="#2e2627" stroke-width="1.44" fill="none"/>
<line x1="82.8" y1="378.5" x2="100.8" y2="378.5" stroke="#625b5c" stroke-width="0.84"/>
<line x1="103.8" y1="378.5" x2="126.8" y2="378.5" stroke="#625b5c" stroke-width="0.84"/>
<line x1="129.8" y1="378.5" x2="139.8" y2="378.5" stroke="#625b5c" stroke-width="0.84"/>
<line x1="142.8" y1="378.5" x2="165.8" y2="378.5" stroke="#625b5c" stroke-width="0.84"/>
<line x1="168.8" y1="378.5" x2="186.8" y2="378.5" stroke="#625b5c" stroke-width="0.84"/>
<line x1="134.8" y1="323" x2="134.8" y2="343.5" stroke="#625b5c" stroke-width="0.84"/>
<line x1="134.8" y1="346.5" x2="134.8" y2="373.5" stroke="#625b5c" stroke-width="0.84"/>
<line x1="134.8" y1="375.5" x2="134.8" y2="381.5" stroke="#625b5c" stroke-width="0.84"/>
<line x1="134.8" y1="383.5" x2="134.8" y2="410.5" stroke="#625b5c" stroke-width="0.84"/>
<line x1="134.8" y1="413.5" x2="134.8" y2="428.5" stroke="#625b5c" stroke-width="0.84"/>
<circle cx="115.3" cy="352.6" r="3.3" stroke="#2e2627" stroke-width="1.5" fill="none"/>
<line x1="109.8" y1="352.6" x2="120.8" y2="352.6" stroke="#625b5c" stroke-width="0.7"/>
<line x1="115.3" y1="347.1" x2="115.3" y2="358.1" stroke="#625b5c" stroke-width="0.7"/>
<circle cx="134.8" cy="352.6" r="3.3" stroke="#2e2627" stroke-width="1.5" fill="none"/>
<line x1="129.3" y1="352.6" x2="140.3" y2="352.6" stroke="#625b5c" stroke-width="0.7"/>
<line x1="134.8" y1="347.1" x2="134.8" y2="358.1" stroke="#625b5c" stroke-width="0.7"/>
<circle cx="134.8" cy="403.4" r="3.3" stroke="#2e2627" stroke-width="1.5" fill="none"/>
<line x1="129.3" y1="403.4" x2="140.3" y2="403.4" stroke="#625b5c" stroke-width="0.7"/>
<line x1="134.8" y1="397.9" x2="134.8" y2="408.9" stroke="#625b5c" stroke-width="0.7"/>
<circle cx="154.4" cy="403.4" r="3.3" stroke="#2e2627" stroke-width="1.5" fill="none"/>
<line x1="148.9" y1="403.4" x2="159.9" y2="403.4" stroke="#625b5c" stroke-width="0.7"/>
<line x1="154.4" y1="397.9" x2="154.4" y2="408.9" stroke="#625b5c" stroke-width="0.7"/>
<circle cx="115.3" cy="378.5" r="8.3" stroke="#2e2627" stroke-width="1.8" fill="none"/>
<circle cx="115.3" cy="374.3" r="3" stroke="#2e2627" stroke-width="1.08" fill="none"/>
<line x1="115.3" y1="366.2" x2="115.3" y2="390.8" stroke="#625b5c" stroke-width="0.7"/>
<circle cx="154.4" cy="378.5" r="8.3" stroke="#2e2627" stroke-width="1.8" fill="none"/>
<circle cx="154.4" cy="382.7" r="3" stroke="#2e2627" stroke-width="1.08" fill="none"/>
<line x1="154.4" y1="366.2" x2="154.4" y2="390.8" stroke="#625b5c" stroke-width="0.7"/>
<line x1="62.4" y1="352.6" x2="111.9" y2="352.6" stroke="#625b5c" stroke-width="0.84"/>
<line x1="62.4" y1="403.4" x2="131.4" y2="403.4" stroke="#625b5c" stroke-width="0.84"/>
<line x1="64.8" y1="360.3" x2="64.8" y2="395.7" stroke="#625b5c" stroke-width="0.98"/>
<path d="M64.8,352.6 L67,363.6 L62.6,363.6 Z" fill="#2e2627"/>
<path d="M64.8,403.4 L62.6,392.4 L67,392.4 Z" fill="#2e2627"/>
<text x="61" y="378.5" font-size="9.8" text-anchor="middle" fill="#453f40" textLength="12.4" lengthAdjust="spacingAndGlyphs" transform="rotate(-90 61 378.5)">32</text>
<line x1="115.3" y1="387.8" x2="115.3" y2="443.8" stroke="#625b5c" stroke-width="0.84"/>
<line x1="154.4" y1="406.8" x2="154.4" y2="443.8" stroke="#625b5c" stroke-width="0.84"/>
<line x1="123.2" y1="441.8" x2="146.5" y2="441.8" stroke="#625b5c" stroke-width="0.98"/>
<path d="M115.5,441.8 L126.5,439.6 L126.5,444 Z" fill="#2e2627"/>
<path d="M154.2,441.8 L143.2,444 L143.2,439.6 Z" fill="#2e2627"/>
<text x="134.5" y="439.4" font-size="9.8" text-anchor="middle" fill="#453f40" textLength="11.5" lengthAdjust="spacingAndGlyphs">24</text>
<line x1="166.1" y1="322.4" x2="208.1" y2="322.4" stroke="#625b5c" stroke-width="1.26"/>
<line x1="166.1" y1="322.4" x2="138" y2="349.6" stroke="#625b5c" stroke-width="0.98"/>
<path d="M137.4,350.2 L143.13,341.72 L146.17,344.91 Z" fill="#2e2627"/>
<path d="M132.2,355 L126.47,363.48 L123.43,360.29 Z" fill="#2e2627"/>
<line x1="125.8" y1="361.1" x2="118" y2="368.1" stroke="#625b5c" stroke-width="0.98"/>
<text x="188.9" y="318.7" font-size="9.8" text-anchor="middle" fill="#453f40" textLength="28" lengthAdjust="spacingAndGlyphs">4–M5</text>
<text x="189.1" y="332.2" font-size="9.8" text-anchor="middle" fill="#453f40" textLength="37.5" lengthAdjust="spacingAndGlyphs">NUMAP</text>
<rect x="60.2" y="288.2" width="2.5" height="2.3" fill="#453f40" opacity="0.85"/>
<text x="70.7" y="296.9" font-size="12" text-anchor="middle" fill="#453f40">X</text>
<rect x="78.5" y="288.2" width="2.5" height="2.3" fill="#453f40" opacity="0.85"/>
<text x="86.2" y="297.5" font-size="11.8" fill="#453f40" textLength="24.2" lengthAdjust="spacing" style="font-family:'Liberation Sans','Noto Sans CJK SC',sans-serif">详图</text>
<text x="111.3" y="296.9" font-size="12" text-anchor="start" fill="#453f40">1</text>
<text x="133.8" y="469.2" font-size="9.6" text-anchor="middle" fill="#453f40" textLength="24" lengthAdjust="spacingAndGlyphs">G1/8</text>
<circle cx="304.9" cy="378.4" r="39" stroke="#2e2627" stroke-width="1.44" fill="none"/>
<line x1="252.9" y1="378.4" x2="270.9" y2="378.4" stroke="#625b5c" stroke-width="0.84"/>
<line x1="273.9" y1="378.4" x2="296.9" y2="378.4" stroke="#625b5c" stroke-width="0.84"/>
<line x1="299.9" y1="378.4" x2="309.9" y2="378.4" stroke="#625b5c" stroke-width="0.84"/>
<line x1="312.9" y1="378.4" x2="335.9" y2="378.4" stroke="#625b5c" stroke-width="0.84"/>
<line x1="338.9" y1="378.4" x2="356.9" y2="378.4" stroke="#625b5c" stroke-width="0.84"/>
<line x1="304.9" y1="322.9" x2="304.9" y2="343.4" stroke="#625b5c" stroke-width="0.84"/>
<line x1="304.9" y1="346.4" x2="304.9" y2="373.4" stroke="#625b5c" stroke-width="0.84"/>
<line x1="304.9" y1="375.4" x2="304.9" y2="381.4" stroke="#625b5c" stroke-width="0.84"/>
<line x1="304.9" y1="383.4" x2="304.9" y2="410.4" stroke="#625b5c" stroke-width="0.84"/>
<line x1="304.9" y1="413.4" x2="304.9" y2="428.4" stroke="#625b5c" stroke-width="0.84"/>
<circle cx="285.4" cy="352.4" r="3.3" stroke="#2e2627" stroke-width="1.5" fill="none"/>
<line x1="279.9" y1="352.4" x2="290.9" y2="352.4" stroke="#625b5c" stroke-width="0.7"/>
<line x1="285.4" y1="346.9" x2="285.4" y2="357.9" stroke="#625b5c" stroke-width="0.7"/>
<circle cx="304.9" cy="352.4" r="3.3" stroke="#2e2627" stroke-width="1.5" fill="none"/>
<line x1="299.4" y1="352.4" x2="310.4" y2="352.4" stroke="#625b5c" stroke-width="0.7"/>
<line x1="304.9" y1="346.9" x2="304.9" y2="357.9" stroke="#625b5c" stroke-width="0.7"/>
<circle cx="304.9" cy="404" r="3.3" stroke="#2e2627" stroke-width="1.5" fill="none"/>
<line x1="299.4" y1="404" x2="310.4" y2="404" stroke="#625b5c" stroke-width="0.7"/>
<line x1="304.9" y1="398.5" x2="304.9" y2="409.5" stroke="#625b5c" stroke-width="0.7"/>
<circle cx="324.5" cy="404" r="3.3" stroke="#2e2627" stroke-width="1.5" fill="none"/>
<line x1="319" y1="404" x2="330" y2="404" stroke="#625b5c" stroke-width="0.7"/>
<line x1="324.5" y1="398.5" x2="324.5" y2="409.5" stroke="#625b5c" stroke-width="0.7"/>
<circle cx="285.4" cy="379.4" r="11" stroke="#2e2627" stroke-width="1.2" fill="none"/>
<circle cx="285.4" cy="379.4" r="9.6" stroke="#2e2627" stroke-width="1.08" fill="none"/>
<circle cx="285.4" cy="373.9" r="3.9" stroke="#2e2627" stroke-width="1.08" fill="none"/>
<line x1="285.4" y1="363.4" x2="285.4" y2="393.4" stroke="#625b5c" stroke-width="0.7"/>
<circle cx="324.5" cy="379.4" r="11" stroke="#2e2627" stroke-width="1.2" fill="none"/>
<circle cx="324.5" cy="379.4" r="9.6" stroke="#2e2627" stroke-width="1.08" fill="none"/>
<circle cx="324.5" cy="383.9" r="3.9" stroke="#2e2627" stroke-width="1.08" fill="none"/>
<line x1="324.5" y1="363.4" x2="324.5" y2="393.4" stroke="#625b5c" stroke-width="0.7"/>
<line x1="243.5" y1="352.4" x2="282" y2="352.4" stroke="#625b5c" stroke-width="0.84"/>
<line x1="243.5" y1="404" x2="301.5" y2="404" stroke="#625b5c" stroke-width="0.84"/>
<line x1="245.9" y1="360.1" x2="245.9" y2="396.3" stroke="#625b5c" stroke-width="0.98"/>
<path d="M245.9,352.4 L248.1,363.4 L243.7,363.4 Z" fill="#2e2627"/>
<path d="M245.9,404 L243.7,393 L248.1,393 Z" fill="#2e2627"/>
<text x="242.1" y="378.4" font-size="9.8" text-anchor="middle" fill="#453f40" textLength="12.4" lengthAdjust="spacingAndGlyphs" transform="rotate(-90 242.1 378.4)">32</text>
<line x1="285.4" y1="390.4" x2="285.4" y2="443.8" stroke="#625b5c" stroke-width="0.84"/>
<line x1="324.5" y1="407.4" x2="324.5" y2="443.8" stroke="#625b5c" stroke-width="0.84"/>
<line x1="293.3" y1="441.8" x2="316.6" y2="441.8" stroke="#625b5c" stroke-width="0.98"/>
<path d="M285.6,441.8 L296.6,439.6 L296.6,444 Z" fill="#2e2627"/>
<path d="M324.3,441.8 L313.3,444 L313.3,439.6 Z" fill="#2e2627"/>
<text x="304.6" y="439.4" font-size="9.8" text-anchor="middle" fill="#453f40" textLength="11.5" lengthAdjust="spacingAndGlyphs">24</text>
<line x1="340" y1="320.9" x2="382" y2="320.9" stroke="#625b5c" stroke-width="1.26"/>
<line x1="340" y1="320.9" x2="308.1" y2="349.4" stroke="#625b5c" stroke-width="0.98"/>
<path d="M307.5,350 L313.23,341.52 L316.27,344.71 Z" fill="#2e2627"/>
<path d="M302.3,354.8 L296.57,363.28 L293.53,360.09 Z" fill="#2e2627"/>
<line x1="295.9" y1="360.9" x2="288.1" y2="367.9" stroke="#625b5c" stroke-width="0.98"/>
<text x="362.8" y="317.2" font-size="9.8" text-anchor="middle" fill="#453f40" textLength="28" lengthAdjust="spacingAndGlyphs">4–M5</text>
<text x="363" y="330.7" font-size="9.8" text-anchor="middle" fill="#453f40" textLength="37.5" lengthAdjust="spacingAndGlyphs">NUMAP</text>
<rect x="234.4" y="288.2" width="2.5" height="2.3" fill="#453f40" opacity="0.85"/>
<text x="244.9" y="296.9" font-size="12" text-anchor="middle" fill="#453f40">X</text>
<rect x="252.7" y="288.2" width="2.5" height="2.3" fill="#453f40" opacity="0.85"/>
<text x="260.4" y="297.5" font-size="11.8" fill="#453f40" textLength="24.2" lengthAdjust="spacing" style="font-family:'Liberation Sans','Noto Sans CJK SC',sans-serif">详图</text>
<text x="285.5" y="296.9" font-size="12" text-anchor="start" fill="#453f40">2</text>
<text x="305.8" y="469.2" font-size="9.6" text-anchor="middle" fill="#453f40" textLength="27" lengthAdjust="spacingAndGlyphs">G1/4"</text>
<circle cx="475.1" cy="376.4" r="39" stroke="#2e2627" stroke-width="1.44" fill="none"/>
<line x1="423.1" y1="376.4" x2="441.1" y2="376.4" stroke="#625b5c" stroke-width="0.84"/>
<line x1="444.1" y1="376.4" x2="467.1" y2="376.4" stroke="#625b5c" stroke-width="0.84"/>
<line x1="470.1" y1="376.4" x2="480.1" y2="376.4" stroke="#625b5c" stroke-width="0.84"/>
<line x1="483.1" y1="376.4" x2="506.1" y2="376.4" stroke="#625b5c" stroke-width="0.84"/>
<line x1="509.1" y1="376.4" x2="527.1" y2="376.4" stroke="#625b5c" stroke-width="0.84"/>
<line x1="475.1" y1="320.9" x2="475.1" y2="341.4" stroke="#625b5c" stroke-width="0.84"/>
<line x1="475.1" y1="344.4" x2="475.1" y2="371.4" stroke="#625b5c" stroke-width="0.84"/>
<line x1="475.1" y1="373.4" x2="475.1" y2="379.4" stroke="#625b5c" stroke-width="0.84"/>
<line x1="475.1" y1="381.4" x2="475.1" y2="408.4" stroke="#625b5c" stroke-width="0.84"/>
<line x1="475.1" y1="411.4" x2="475.1" y2="426.4" stroke="#625b5c" stroke-width="0.84"/>
<circle cx="455.6" cy="350.4" r="3.3" stroke="#2e2627" stroke-width="1.5" fill="none"/>
<line x1="450.1" y1="350.4" x2="461.1" y2="350.4" stroke="#625b5c" stroke-width="0.7"/>
<line x1="455.6" y1="344.9" x2="455.6" y2="355.9" stroke="#625b5c" stroke-width="0.7"/>
<circle cx="475.1" cy="350.4" r="3.3" stroke="#2e2627" stroke-width="1.5" fill="none"/>
<line x1="469.6" y1="350.4" x2="480.6" y2="350.4" stroke="#625b5c" stroke-width="0.7"/>
<line x1="475.1" y1="344.9" x2="475.1" y2="355.9" stroke="#625b5c" stroke-width="0.7"/>
<circle cx="475.1" cy="401.9" r="3.3" stroke="#2e2627" stroke-width="1.5" fill="none"/>
<line x1="469.6" y1="401.9" x2="480.6" y2="401.9" stroke="#625b5c" stroke-width="0.7"/>
<line x1="475.1" y1="396.4" x2="475.1" y2="407.4" stroke="#625b5c" stroke-width="0.7"/>
<circle cx="494.7" cy="401.9" r="3.3" stroke="#2e2627" stroke-width="1.5" fill="none"/>
<line x1="489.2" y1="401.9" x2="500.2" y2="401.9" stroke="#625b5c" stroke-width="0.7"/>
<line x1="494.7" y1="396.4" x2="494.7" y2="407.4" stroke="#625b5c" stroke-width="0.7"/>
<circle cx="455.6" cy="377.4" r="10.4" stroke="#2e2627" stroke-width="1.2" fill="none"/>
<circle cx="455.6" cy="377.4" r="9" stroke="#2e2627" stroke-width="1.08" fill="none"/>
<circle cx="455.6" cy="371.9" r="3.9" stroke="#2e2627" stroke-width="1.08" fill="none"/>
<line x1="455.6" y1="362" x2="455.6" y2="390.8" stroke="#625b5c" stroke-width="0.7"/>
<circle cx="494.7" cy="377.4" r="10.4" stroke="#2e2627" stroke-width="1.2" fill="none"/>
<circle cx="494.7" cy="377.4" r="9" stroke="#2e2627" stroke-width="1.08" fill="none"/>
<circle cx="494.7" cy="381.9" r="3.9" stroke="#2e2627" stroke-width="1.08" fill="none"/>
<line x1="494.7" y1="362" x2="494.7" y2="390.8" stroke="#625b5c" stroke-width="0.7"/>
<line x1="414.2" y1="350.4" x2="452.2" y2="350.4" stroke="#625b5c" stroke-width="0.84"/>
<line x1="414.2" y1="401.9" x2="471.7" y2="401.9" stroke="#625b5c" stroke-width="0.84"/>
<line x1="416.6" y1="358.1" x2="416.6" y2="394.2" stroke="#625b5c" stroke-width="0.98"/>
<path d="M416.6,350.4 L418.8,361.4 L414.4,361.4 Z" fill="#2e2627"/>
<path d="M416.6,401.9 L414.4,390.9 L418.8,390.9 Z" fill="#2e2627"/>
<text x="412.8" y="376.4" font-size="9.8" text-anchor="middle" fill="#453f40" textLength="12.4" lengthAdjust="spacingAndGlyphs" transform="rotate(-90 412.8 376.4)">45</text>
<line x1="455.6" y1="387.8" x2="455.6" y2="443.8" stroke="#625b5c" stroke-width="0.84"/>
<line x1="494.7" y1="405.3" x2="494.7" y2="443.8" stroke="#625b5c" stroke-width="0.84"/>
<line x1="463.5" y1="441.8" x2="486.8" y2="441.8" stroke="#625b5c" stroke-width="0.98"/>
<path d="M455.8,441.8 L466.8,439.6 L466.8,444 Z" fill="#2e2627"/>
<path d="M494.5,441.8 L483.5,444 L483.5,439.6 Z" fill="#2e2627"/>
<text x="474.8" y="439.4" font-size="9.8" text-anchor="middle" fill="#453f40" textLength="11.5" lengthAdjust="spacingAndGlyphs">40</text>
<line x1="508.6" y1="318.9" x2="550.6" y2="318.9" stroke="#625b5c" stroke-width="1.26"/>
<line x1="508.6" y1="318.9" x2="478.3" y2="347.4" stroke="#625b5c" stroke-width="0.98"/>
<path d="M477.7,348 L483.43,339.52 L486.47,342.71 Z" fill="#2e2627"/>
<path d="M472.5,352.8 L466.77,361.28 L463.73,358.09 Z" fill="#2e2627"/>
<line x1="466.1" y1="358.9" x2="458.3" y2="365.9" stroke="#625b5c" stroke-width="0.98"/>
<text x="531.4" y="315.2" font-size="9.8" text-anchor="middle" fill="#453f40" textLength="28" lengthAdjust="spacingAndGlyphs">4–M6</text>
<text x="531.6" y="328.7" font-size="9.8" text-anchor="middle" fill="#453f40" textLength="37.5" lengthAdjust="spacingAndGlyphs">NUMAP</text>
<rect x="400.4" y="288.2" width="2.5" height="2.3" fill="#453f40" opacity="0.85"/>
<text x="410.9" y="296.9" font-size="12" text-anchor="middle" fill="#453f40">X</text>
<rect x="418.7" y="288.2" width="2.5" height="2.3" fill="#453f40" opacity="0.85"/>
<text x="426.4" y="297.5" font-size="11.8" fill="#453f40" textLength="24.2" lengthAdjust="spacing" style="font-family:'Liberation Sans','Noto Sans CJK SC',sans-serif">详图</text>
<text x="451.5" y="296.9" font-size="12" text-anchor="start" fill="#453f40">3</text>
<text x="475.1" y="469.2" font-size="9.6" text-anchor="middle" fill="#453f40" textLength="67.5" lengthAdjust="spacingAndGlyphs">G3/8"  (G1/2")</text>
<line x1="591" y1="380" x2="700" y2="380" stroke="#625b5c" stroke-width="0.84"/>
<line x1="708.5" y1="380" x2="739.5" y2="380" stroke="#625b5c" stroke-width="0.84"/>
<line x1="649.5" y1="312" x2="649.5" y2="444" stroke="#625b5c" stroke-width="0.84"/>
<circle cx="649.5" cy="380" r="22.4" stroke="#2e2627" stroke-width="2.16" fill="none"/>
<circle cx="649.5" cy="380" r="14.8" stroke="#2e2627" stroke-width="1.32" fill="none"/>
<circle cx="649.5" cy="380" r="13.2" stroke="#2e2627" stroke-width="0.8" fill="none"/>
<path d="M659.66,384.21 Q654.49,384.99 653.71,390.16 Q649.5,387.05 645.29,390.16 Q644.51,384.99 639.34,384.21 Q642.45,380 639.34,375.79 Q644.51,375.01 645.29,369.84 Q649.5,372.95 653.71,369.84 Q654.49,375.01 659.66,375.79 Q656.55,380 659.66,384.21 Z" stroke="#2e2627" stroke-width="1.32" fill="none"/>
<circle cx="690.43" cy="396.95" r="3.1" stroke="#2e2627" stroke-width="1.2" fill="none"/>
<line x1="689.03" y1="395.55" x2="691.83" y2="398.35" stroke="#2e2627" stroke-width="0.5"/>
<line x1="691.83" y1="395.55" x2="689.03" y2="398.35" stroke="#2e2627" stroke-width="0.5"/>
<line x1="682.57" y1="393.7" x2="698.28" y2="400.21" stroke="#625b5c" stroke-width="0.7"/>
<circle cx="666.45" cy="420.93" r="3.1" stroke="#2e2627" stroke-width="1.2" fill="none"/>
<line x1="665.05" y1="419.53" x2="667.85" y2="422.33" stroke="#2e2627" stroke-width="0.5"/>
<line x1="667.85" y1="419.53" x2="665.05" y2="422.33" stroke="#2e2627" stroke-width="0.5"/>
<line x1="663.2" y1="413.07" x2="669.71" y2="428.78" stroke="#625b5c" stroke-width="0.7"/>
<circle cx="632.55" cy="420.93" r="3.1" stroke="#2e2627" stroke-width="1.2" fill="none"/>
<line x1="631.15" y1="419.53" x2="633.95" y2="422.33" stroke="#2e2627" stroke-width="0.5"/>
<line x1="633.95" y1="419.53" x2="631.15" y2="422.33" stroke="#2e2627" stroke-width="0.5"/>
<line x1="635.8" y1="413.07" x2="629.29" y2="428.78" stroke="#625b5c" stroke-width="0.7"/>
<circle cx="608.57" cy="396.95" r="3.1" stroke="#2e2627" stroke-width="1.2" fill="none"/>
<line x1="607.17" y1="395.55" x2="609.97" y2="398.35" stroke="#2e2627" stroke-width="0.5"/>
<line x1="609.97" y1="395.55" x2="607.17" y2="398.35" stroke="#2e2627" stroke-width="0.5"/>
<line x1="616.43" y1="393.7" x2="600.72" y2="400.21" stroke="#625b5c" stroke-width="0.7"/>
<circle cx="608.57" cy="363.05" r="3.1" stroke="#2e2627" stroke-width="1.2" fill="none"/>
<line x1="607.17" y1="361.65" x2="609.97" y2="364.45" stroke="#2e2627" stroke-width="0.5"/>
<line x1="609.97" y1="361.65" x2="607.17" y2="364.45" stroke="#2e2627" stroke-width="0.5"/>
<line x1="616.43" y1="366.3" x2="600.72" y2="359.79" stroke="#625b5c" stroke-width="0.7"/>
<circle cx="632.55" cy="339.07" r="3.1" stroke="#2e2627" stroke-width="1.2" fill="none"/>
<line x1="631.15" y1="337.67" x2="633.95" y2="340.47" stroke="#2e2627" stroke-width="0.5"/>
<line x1="633.95" y1="337.67" x2="631.15" y2="340.47" stroke="#2e2627" stroke-width="0.5"/>
<line x1="635.8" y1="346.93" x2="629.29" y2="331.22" stroke="#625b5c" stroke-width="0.7"/>
<circle cx="666.45" cy="339.07" r="3.1" stroke="#2e2627" stroke-width="1.2" fill="none"/>
<line x1="665.05" y1="337.67" x2="667.85" y2="340.47" stroke="#2e2627" stroke-width="0.5"/>
<line x1="667.85" y1="337.67" x2="665.05" y2="340.47" stroke="#2e2627" stroke-width="0.5"/>
<line x1="663.2" y1="346.93" x2="669.71" y2="331.22" stroke="#625b5c" stroke-width="0.7"/>
<circle cx="690.43" cy="363.05" r="3.1" stroke="#2e2627" stroke-width="1.2" fill="none"/>
<line x1="689.03" y1="361.65" x2="691.83" y2="364.45" stroke="#2e2627" stroke-width="0.5"/>
<line x1="691.83" y1="361.65" x2="689.03" y2="364.45" stroke="#2e2627" stroke-width="0.5"/>
<line x1="682.57" y1="366.3" x2="698.28" y2="359.79" stroke="#625b5c" stroke-width="0.7"/>
<path d="M692.29,368.53 A44.3,44.3 0 0 1 692.29,391.47" stroke="#625b5c" stroke-width="0.98" fill="none"/>
<path d="M660.97,422.79 A44.3,44.3 0 0 1 638.03,422.79" stroke="#625b5c" stroke-width="0.98" fill="none"/>
<path d="M606.71,391.47 A44.3,44.3 0 0 1 606.71,368.53" stroke="#625b5c" stroke-width="0.98" fill="none"/>
<path d="M638.03,337.21 A44.3,44.3 0 0 1 660.97,337.21" stroke="#625b5c" stroke-width="0.98" fill="none"/>
<path d="M687.07,403.48 A44.3,44.3 0 0 1 672.98,417.57" stroke="#625b5c" stroke-width="0.98" fill="none"/>
<path d="M626.02,417.57 A44.3,44.3 0 0 1 611.93,403.48" stroke="#625b5c" stroke-width="0.98" fill="none"/>
<path d="M611.93,356.52 A44.3,44.3 0 0 1 626.02,342.43" stroke="#625b5c" stroke-width="0.98" fill="none"/>
<path d="M672.98,342.43 A44.3,44.3 0 0 1 687.07,356.52" stroke="#625b5c" stroke-width="0.98" fill="none"/>
<circle cx="671.35" cy="401.85" r="4" stroke="#2e2627" stroke-width="1.44" fill="none"/>
<line x1="669.55" y1="403.65" x2="673.15" y2="400.05" stroke="#2e2627" stroke-width="0.5"/>
<line x1="664.99" y1="395.49" x2="677.71" y2="408.21" stroke="#625b5c" stroke-width="0.7"/>
<circle cx="627.65" cy="401.85" r="4" stroke="#2e2627" stroke-width="1.44" fill="none"/>
<line x1="625.85" y1="403.65" x2="629.45" y2="400.05" stroke="#2e2627" stroke-width="0.5"/>
<line x1="634.01" y1="395.49" x2="621.29" y2="408.21" stroke="#625b5c" stroke-width="0.7"/>
<circle cx="627.65" cy="358.15" r="4" stroke="#2e2627" stroke-width="1.44" fill="none"/>
<line x1="625.85" y1="359.95" x2="629.45" y2="356.35" stroke="#2e2627" stroke-width="0.5"/>
<line x1="634.01" y1="364.51" x2="621.29" y2="351.79" stroke="#625b5c" stroke-width="0.7"/>
<circle cx="671.35" cy="358.15" r="4" stroke="#2e2627" stroke-width="1.44" fill="none"/>
<line x1="669.55" y1="359.95" x2="673.15" y2="356.35" stroke="#2e2627" stroke-width="0.5"/>
<line x1="664.99" y1="364.51" x2="677.71" y2="351.79" stroke="#625b5c" stroke-width="0.7"/>
<path d="M675.41,363.17 A30.9,30.9 0 0 1 675.41,396.83" stroke="#625b5c" stroke-width="0.98" fill="none"/>
<path d="M666.33,405.91 A30.9,30.9 0 0 1 632.67,405.91" stroke="#625b5c" stroke-width="0.98" fill="none"/>
<path d="M623.59,396.83 A30.9,30.9 0 0 1 623.59,363.17" stroke="#625b5c" stroke-width="0.98" fill="none"/>
<path d="M632.67,354.09 A30.9,30.9 0 0 1 666.33,354.09" stroke="#625b5c" stroke-width="0.98" fill="none"/>
<line x1="605.2" y1="283.6" x2="605.2" y2="372" stroke="#625b5c" stroke-width="0.98"/>
<line x1="694.2" y1="283.6" x2="694.2" y2="381" stroke="#625b5c" stroke-width="0.98"/>
<line x1="618.5" y1="302.2" x2="618.5" y2="380" stroke="#625b5c" stroke-width="0.98"/>
<line x1="681.2" y1="302.2" x2="681.2" y2="380" stroke="#625b5c" stroke-width="0.98"/>
<line x1="614.35" y1="286" x2="684.95" y2="286" stroke="#625b5c" stroke-width="0.98"/>
<path d="M606.3,286 L617.8,283.7 L617.8,288.3 Z" fill="#2e2627"/>
<path d="M693,286 L681.5,288.3 L681.5,283.7 Z" fill="#2e2627"/>
<line x1="627.65" y1="304.1" x2="672.15" y2="304.1" stroke="#625b5c" stroke-width="0.98"/>
<path d="M619.6,304.1 L631.1,301.8 L631.1,306.4 Z" fill="#2e2627"/>
<path d="M680.2,304.1 L668.7,306.4 L668.7,301.8 Z" fill="#2e2627"/>
<text x="649.3" y="282.2" font-size="9.8" text-anchor="middle" fill="#453f40">J</text>
<text x="649.3" y="299.4" font-size="9.8" text-anchor="middle" fill="#453f40">K</text>
<line x1="657.7" y1="358.15" x2="667.35" y2="358.15" stroke="#625b5c" stroke-width="0.98"/>
<path d="M667.35,358.15 L657.35,360.25 L657.35,356.05 Z" fill="#2e2627"/>
<line x1="675.35" y1="358.15" x2="716" y2="358.15" stroke="#625b5c" stroke-width="0.98"/>
<path d="M675.35,358.15 L685.35,356.05 L685.35,360.25 Z" fill="#2e2627"/>
<text x="710.2" y="356.2" font-size="9.8" text-anchor="middle" fill="#453f40">M</text>
<line x1="677.5" y1="396.95" x2="687.33" y2="396.95" stroke="#625b5c" stroke-width="0.98"/>
<path d="M687.33,396.95 L677.33,399.05 L677.33,394.85 Z" fill="#2e2627"/>
<line x1="693.53" y1="396.95" x2="722" y2="396.95" stroke="#625b5c" stroke-width="0.98"/>
<path d="M693.53,396.95 L703.53,394.85 L703.53,399.05 Z" fill="#2e2627"/>
<text x="716.6" y="395.8" font-size="9.8" text-anchor="middle" fill="#453f40">L</text>
<line x1="583.6" y1="371.6" x2="628.5" y2="371.6" stroke="#625b5c" stroke-width="0.98"/>
<line x1="583.6" y1="388.7" x2="628.5" y2="388.7" stroke="#625b5c" stroke-width="0.98"/>
<line x1="585.3" y1="352.4" x2="585.3" y2="371.6" stroke="#625b5c" stroke-width="0.98"/>
<path d="M585.3,371.6 L583.1,360.6 L587.5,360.6 Z" fill="#2e2627"/>
<line x1="585.3" y1="388.7" x2="585.3" y2="406.8" stroke="#625b5c" stroke-width="0.98"/>
<path d="M585.3,388.7 L587.5,399.7 L583.1,399.7 Z" fill="#2e2627"/>
<text x="582.8" y="380" font-size="9.8" text-anchor="middle" fill="#453f40" transform="rotate(-90 582.8 380)">N</text>
<text x="650" y="469.2" font-size="9.6" text-anchor="middle" fill="#453f40" textLength="125" lengthAdjust="spacingAndGlyphs">ACT300 ACT350 ACT400</text>
<path d="M873.5,333.4 A43,43 0 1 1 821.1,333.4" stroke="#2e2627" stroke-width="1.44" fill="none"/>
<defs><pattern id="h3" width="5.2" height="5.2" patternUnits="userSpaceOnUse" patternTransform="rotate(45)"><line x1="0" y1="0" x2="0" y2="5.2" stroke="#2e2627" stroke-width="1.0"/></pattern><clipPath id="cc"><circle cx="847.3" cy="367.5" r="42.6"/></clipPath></defs>
<g clip-path="url(#cc)">
<path d="M826.1,343.7 H834 V360.1 H836 V393 L847.3,401.4 V415 H821.6 V371.4 L826.1,368.4 Z" stroke="#2e2627" stroke-width="1.32" fill="url(#h3)"/>
<path d="M868.5,343.7 H860.4 V360.1 H858.4 V393 L847.3,401.4 V415 H872.9 V371.4 L868.5,368.4 Z" stroke="#2e2627" stroke-width="1.32" fill="url(#h3)"/>
</g>
<line x1="826.1" y1="343.7" x2="840.8" y2="343.7" stroke="#2e2627" stroke-width="1.32"/>
<line x1="854.4" y1="343.7" x2="868.5" y2="343.7" stroke="#2e2627" stroke-width="1.32"/>
<line x1="836" y1="360.1" x2="836" y2="393" stroke="#2e2627" stroke-width="1.92"/>
<line x1="858.4" y1="360.1" x2="858.4" y2="393" stroke="#2e2627" stroke-width="1.92"/>
<line x1="838.1" y1="361" x2="838.1" y2="393" stroke="#2e2627" stroke-width="0.7"/>
<line x1="856.3" y1="361" x2="856.3" y2="393" stroke="#2e2627" stroke-width="0.7"/>
<line x1="834" y1="360.1" x2="860.4" y2="360.1" stroke="#2e2627" stroke-width="1.32"/>
<path d="M836,393 H858.4 M836,393 L847.3,401.4 L858.4,393" stroke="#2e2627" stroke-width="1.32" fill="none"/>
<line x1="840.8" y1="314.8" x2="840.8" y2="360" stroke="#625b5c" stroke-width="0.98"/>
<line x1="854.4" y1="314.8" x2="854.4" y2="360" stroke="#625b5c" stroke-width="0.98"/>
<line x1="847.3" y1="326" x2="847.3" y2="353" stroke="#625b5c" stroke-width="0.84"/>
<line x1="847.3" y1="362" x2="847.3" y2="421.5" stroke="#625b5c" stroke-width="0.84"/>
<line x1="821.8" y1="317.2" x2="840.8" y2="317.2" stroke="#625b5c" stroke-width="0.98"/>
<path d="M840.8,317.2 L829.8,319.4 L829.8,315 Z" fill="#2e2627"/>
<line x1="854.4" y1="317.2" x2="873.7" y2="317.2" stroke="#625b5c" stroke-width="0.98"/>
<path d="M854.4,317.2 L865.4,315 L865.4,319.4 Z" fill="#2e2627"/>
<text x="847.6" y="314.3" font-size="9.8" text-anchor="middle" fill="#453f40">4</text>
<line x1="836.1" y1="393" x2="836.1" y2="443.5" stroke="#625b5c" stroke-width="0.98"/>
<line x1="858.4" y1="393" x2="858.4" y2="443.5" stroke="#625b5c" stroke-width="0.98"/>
<line x1="815.4" y1="441.8" x2="836.1" y2="441.8" stroke="#625b5c" stroke-width="0.98"/>
<path d="M836.1,441.8 L825.1,444 L825.1,439.6 Z" fill="#2e2627"/>
<line x1="858.4" y1="441.8" x2="879.2" y2="441.8" stroke="#625b5c" stroke-width="0.98"/>
<path d="M858.4,441.8 L869.4,439.6 L869.4,444 Z" fill="#2e2627"/>
<text x="847.6" y="439.7" font-size="9.8" text-anchor="middle" fill="#453f40" textLength="14.6" lengthAdjust="spacingAndGlyphs">M6</text>
<line x1="777.8" y1="343.7" x2="826" y2="343.7" stroke="#625b5c" stroke-width="0.98"/>
<line x1="777.8" y1="392.2" x2="836" y2="392.2" stroke="#625b5c" stroke-width="0.98"/>
<line x1="781" y1="351.4" x2="781" y2="384.5" stroke="#625b5c" stroke-width="0.98"/>
<path d="M781,343.7 L783.2,354.7 L778.8,354.7 Z" fill="#2e2627"/>
<path d="M781,392.2 L778.8,381.2 L783.2,381.2 Z" fill="#2e2627"/>
<text x="777" y="368" font-size="9.8" text-anchor="middle" fill="#453f40" textLength="12" lengthAdjust="spacingAndGlyphs" transform="rotate(-90 777 368)">14</text>
<line x1="868.5" y1="343.8" x2="911.5" y2="343.8" stroke="#625b5c" stroke-width="0.98"/>
<line x1="860.4" y1="359.3" x2="911.5" y2="359.3" stroke="#625b5c" stroke-width="0.98"/>
<line x1="909" y1="303.2" x2="909" y2="378.4" stroke="#625b5c" stroke-width="0.98"/>
<path d="M909,343.8 L906.8,333.3 L911.2,333.3 Z" fill="#2e2627"/>
<path d="M909,359.3 L911.2,369.8 L906.8,369.8 Z" fill="#2e2627"/>
<text x="906.7" y="319" font-size="9.8" text-anchor="middle" fill="#453f40" textLength="16.5" lengthAdjust="spacingAndGlyphs" transform="rotate(-90 906.7 319)">4.5</text>
<text x="847.5" y="469.4" font-size="9.6" text-anchor="middle" fill="#453f40" textLength="37.5" lengthAdjust="spacingAndGlyphs">NUMAP</text>
</svg>
</body></html>
